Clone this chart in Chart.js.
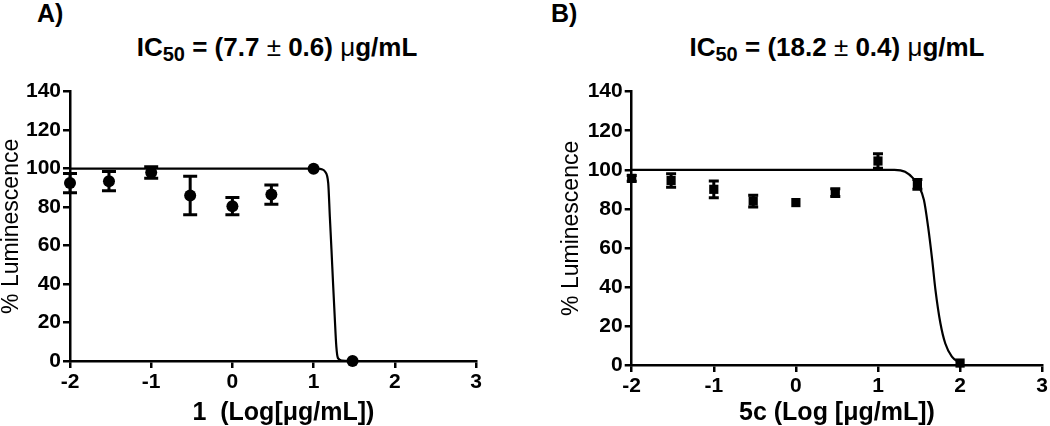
<!DOCTYPE html>
<html>
<head>
<meta charset="utf-8">
<script src="https://cdn.jsdelivr.net/npm/chart.js"></script>
<style>
  body { margin: 0; width: 1050px; height: 426px; overflow: hidden; background: #fff;
         font-family: "Liberation Sans", Arial, sans-serif; color: #000; }
  .panel { position: absolute; top: 70px; width: 525px; height: 356px; }
  .tag { position: absolute; top: 1px; font-size: 25px; font-weight: bold; line-height: 1; }
  .ttl { position: absolute; top: 34px; width: 400px; text-align: center; font-size: 26px;
         font-weight: bold; line-height: 1; white-space: nowrap; }
  .ttl .sub { font-size: 20px; position: relative; top: 5px; }
  .ttl .sym { font-weight: normal; }
</style>
</head>
<body>
<div class="tag" style="left:37px">A)</div>
<div class="ttl" style="left:77px">IC<span class="sub">50</span> = (7.7 <span class="sym">±</span> 0.6) <span class="sym">μ</span>g/mL</div>
<div class="tag" style="left:551px">B)</div>
<div class="ttl" style="left:637px">IC<span class="sub">50</span> = (18.2 <span class="sym">±</span> 0.4) <span class="sym">μ</span>g/mL</div>

<div class="panel" style="left:0"><canvas id="chartA" width="525" height="356"></canvas></div>
<div class="panel" style="left:525px"><canvas id="chartB" width="525" height="356"></canvas></div>

<script>
// panel A - compound 1
var doseA = [-2, -1.52, -1, -0.52, 0, 0.48, 1, 1.48];
var lumA = [92.5, 93.5, 98, 86, 80.5, 86.5, 100, 0];
var errA = [5, 5, 3, 10, 4.5, 5, 0, 0];
var fitAx = [-2, 1.05, 1.1, 1.14, 1.18, 1.2, 1.22, 1.24, 1.26, 1.28, 1.3, 1.35, 1.48];
var fitAy = [100, 100, 99.7, 98.5, 92.5, 75, 58, 40, 23, 7.5, 1.5, 0.2, 0];

// panel B - compound 5c
var doseB = [-2, -1.52, -1, -0.52, 0, 0.48, 1, 1.48, 2];
var lumB = [95.6, 94.5, 90, 84, 83.2, 88.3, 104.5, 92.5, 1];
var errB = [1.5, 3.5, 4.3, 3, 0, 2, 3.7, 2.5, 0];
var fitBx = [-2, 1.2, 1.33, 1.43, 1.5, 1.56, 1.61, 1.66, 1.7, 1.76, 1.82, 1.9, 2];
var fitBy = [100, 100, 99, 95.6, 91.5, 84.5, 71, 54, 38.5, 21.5, 11, 4.3, 1];

var xTicks = [-2, -1, 0, 1, 2, 3];
var yTicks = [0, 20, 40, 60, 80, 100, 120, 140];

Chart.defaults.font.family = '"Liberation Sans", Arial, sans-serif';
Chart.defaults.color = '#000';

function toPoints(xs, ys) {
    return xs.map(function (x, i) { return { x: x, y: ys[i] }; });
}

// draws the vertical error bars with caps from dataset.errors
var errorBarPlugin = {
    id: 'errorBars',
    beforeDatasetsDraw: function (chart) {
        var ctx = chart.ctx;
        var xs = chart.scales.x, ys = chart.scales.y;
        chart.data.datasets.forEach(function (ds) {
            if (!ds.errors) return;
            ctx.save();
            ctx.strokeStyle = '#000';
            ctx.lineWidth = 3;
            ds.data.forEach(function (p, i) {
                var e = ds.errors[i];
                if (!e) return;
                var px = xs.getPixelForValue(p.x);
                var top = ys.getPixelForValue(p.y + e);
                var bot = ys.getPixelForValue(p.y - e);
                ctx.beginPath();
                ctx.moveTo(px, top); ctx.lineTo(px, bot);
                ctx.moveTo(px - ds.capHalf, top); ctx.lineTo(px + ds.capHalf, top);
                ctx.moveTo(px - ds.capHalf, bot); ctx.lineTo(px + ds.capHalf, bot);
                ctx.stroke();
            });
            ctx.restore();
        });
    }
};

function makeChart(id, cfg) {
    var ctx = document.getElementById(id).getContext('2d');
    var axisFont = { size: 21, weight: 'bold' };
    return new Chart(ctx, {
        type: 'scatter',
        data: {
            datasets: [{
                data: toPoints(cfg.dose, cfg.lum),
                errors: cfg.err,
                capHalf: cfg.capHalf,
                pointStyle: cfg.marker,
                pointRadius: cfg.radius,
                pointBackgroundColor: '#000',
                pointBorderColor: '#000',
                pointBorderWidth: 0,
                clip: false
            }, {
                data: toPoints(cfg.fitX, cfg.fitY),
                showLine: true,
                cubicInterpolationMode: 'monotone',
                borderColor: '#000',
                borderWidth: 2.2,
                pointRadius: 0,
                clip: false
            }]
        },
        options: {
            responsive: false,
            animation: false,
            layout: { padding: { top: 21.7, right: cfg.padRight, bottom: 0, left: 0 } },
            plugins: { legend: { display: false }, tooltip: { enabled: false } },
            scales: {
                x: {
                    type: 'linear',
                    min: xTicks[0],
                    max: xTicks[xTicks.length - 1],
                    afterBuildTicks: function (s) { s.ticks = xTicks.map(function (v) { return { value: v }; }); },
                    ticks: { font: axisFont, color: '#000', padding: 2, maxRotation: 0, autoSkip: false },
                    grid: { drawOnChartArea: false, drawTicks: true, tickLength: 7, color: '#000', lineWidth: 2.5 },
                    border: { display: true, color: '#000', width: 2.5 },
                    title: { display: true, text: cfg.xTitle, color: '#000',
                             font: { size: 25, weight: 'bold', lineHeight: 1 }, padding: { top: 0, bottom: 0 } },
                    afterFit: function (s) { s.height = cfg.xHeight; }
                },
                y: {
                    min: yTicks[0],
                    max: yTicks[yTicks.length - 1],
                    afterBuildTicks: function (s) { s.ticks = yTicks.map(function (v) { return { value: v }; }); },
                    ticks: { font: axisFont, color: '#000', padding: 2, autoSkip: false },
                    grid: { drawOnChartArea: false, drawTicks: true, tickLength: 7, color: '#000', lineWidth: 2.5 },
                    border: { display: true, color: '#000', width: 2.5 },
                    title: { display: true, text: '% Luminescence', color: '#000',
                             font: { size: 23, weight: 'normal', lineHeight: 1 }, padding: { top: cfg.yTitlePad, bottom: 0 } },
                    afterFit: function (s) { s.width = cfg.yWidth; }
                }
            }
        },
        plugins: [errorBarPlugin]
    });
}

makeChart('chartA', {
    dose: doseA, lum: lumA, err: errA, fitX: fitAx, fitY: fitAy,
    marker: 'circle', radius: 6, capHalf: 7,
    xTitle: '   1  (Log[μg/mL])',
    yWidth: 70, yTitlePad: 0, xHeight: 65, padRight: 49
});

makeChart('chartB', {
    dose: doseB, lum: lumB, err: errB, fitX: fitBx, fitY: fitBy,
    marker: 'rect', radius: 6.5, capHalf: 5,
    xTitle: '5c (Log [μg/mL])',
    yWidth: 106.7, yTitlePad: 35, xHeight: 61, padRight: 6
});
</script>
</body>
</html>
